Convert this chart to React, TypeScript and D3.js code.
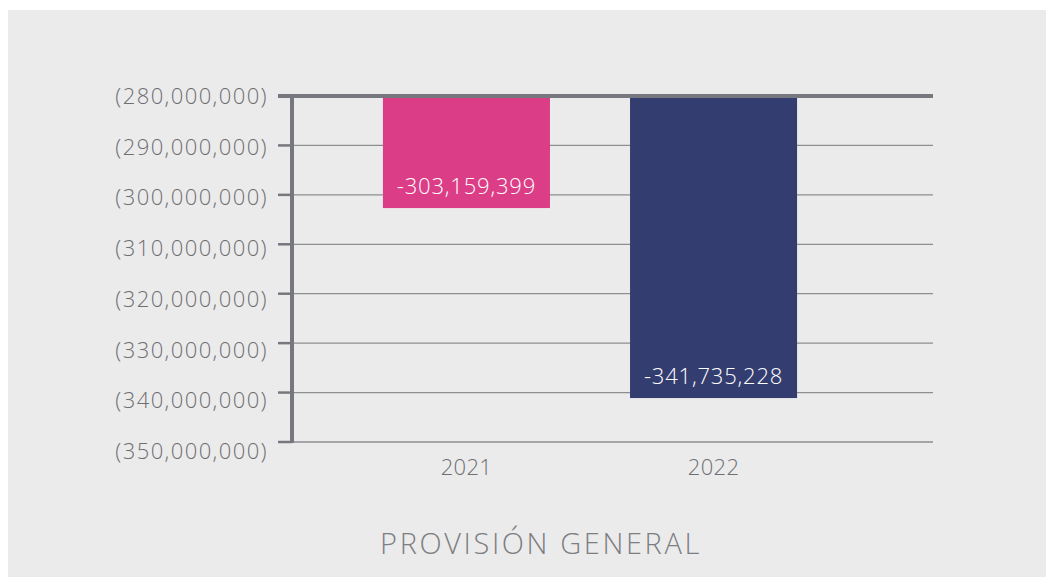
import * as d3 from "d3";
import { useEffect, useRef } from "react";

const years = ["2021", "2022"];
const values = [-303159399, -341735228];
const barColors = ["#db3d87", "#343d70"];
const tickValues = [-280000000, -290000000, -300000000, -310000000, -320000000, -330000000, -340000000, -350000000];
const title = "PROVISIÓN GENERAL";

const W = 1046;
const H = 579;
const FONT = "'Open Sans', 'DejaVu Sans', sans-serif";

export default function App() {
  const ref = useRef<SVGSVGElement>(null);

  useEffect(() => {
    if (!ref.current) return;
    const svg = d3.select(ref.current);
    svg.selectAll("*").remove();

    svg.append("rect").attr("width", W).attr("height", H).attr("fill", "#ffffff");
    svg.append("rect").attr("x", 8).attr("y", 10).attr("width", W - 8).attr("height", H - 12).attr("fill", "#ebebeb");

    const axisX = 292;
    const gridEnd = 933;
    const top = -280000000;
    // gridlines / ticks
    const y = d3.scaleLinear().domain([top, -350000000]).range([96, 442]);
    // tick labels drift slightly lower than their ticks in the original
    const yLabel = d3.scaleLinear().domain([top, -350000000]).range([96, 451]);
    // bars are drawn on a slightly tighter scale in the original
    const yBar = d3.scaleLinear().domain([top, -350000000]).range([94, 438.75]);
    const x = d3.scaleBand<string>().domain(years).range([axisX, 888]).paddingInner(0.324).paddingOuter(0.368);

    const fmtTick = (v: number) => `(${d3.format(",")(Math.abs(v))})`;

    // gridlines
    tickValues.slice(1).forEach((t) => {
      svg.append("line")
        .attr("x1", axisX).attr("x2", gridEnd)
        .attr("y1", y(t)).attr("y2", y(t))
        .attr("stroke", "#8d8e91").attr("stroke-width", 1.3);
    });

    // bars
    years.forEach((yr, i) => {
      const v = values[i];
      svg.append("rect")
        .attr("x", x(yr) ?? 0)
        .attr("y", y(top))
        .attr("width", x.bandwidth())
        .attr("height", yBar(v) - y(top))
        .attr("fill", barColors[i]);
      svg.append("text")
        .attr("x", (x(yr) ?? 0) + x.bandwidth() / 2)
        .attr("y", yBar(v) - 14)
        .attr("text-anchor", "middle")
        .attr("font-family", FONT)
        .attr("font-weight", 300)
        .attr("font-size", 22)
        .attr("letter-spacing", 0.8)
        .attr("fill", "#ffffff")
        .text(d3.format(",")(v).replace("−", "-"));
      svg.append("text")
        .attr("x", (x(yr) ?? 0) + x.bandwidth() / 2)
        .attr("y", 475)
        .attr("text-anchor", "middle")
        .attr("font-family", FONT)
        .attr("font-weight", 300)
        .attr("font-size", 22)
        .attr("letter-spacing", 0.3)
        .attr("fill", "#6e6f73")
        .text(yr);
    });

    // top thick line
    svg.append("line")
      .attr("x1", 278).attr("x2", gridEnd)
      .attr("y1", y(top)).attr("y2", y(top))
      .attr("stroke", "#76787d").attr("stroke-width", 4);

    // y axis line and ticks
    svg.append("line")
      .attr("x1", axisX).attr("x2", axisX)
      .attr("y1", y(top) - 2).attr("y2", y(-350000000) + 1)
      .attr("stroke", "#76787d").attr("stroke-width", 4);
    tickValues.forEach((t) => {
      svg.append("line")
        .attr("x1", 278).attr("x2", axisX)
        .attr("y1", y(t)).attr("y2", y(t))
        .attr("stroke", "#76787d").attr("stroke-width", t === top ? 4 : 2.5);
      svg.append("text")
        .attr("x", 268)
        .attr("y", yLabel(t) + 8)
        .attr("text-anchor", "end")
        .attr("font-family", FONT)
        .attr("font-weight", 300)
        .attr("font-size", 22)
        .attr("letter-spacing", 1.4)
        .attr("fill", "#6e6f73")
        .text(fmtTick(t));
    });

    svg.append("text")
      .attr("x", 541)
      .attr("y", 554)
      .attr("text-anchor", "middle")
      .attr("font-family", FONT)
      .attr("font-weight", 300)
      .attr("font-size", 29)
      .attr("letter-spacing", 2.6)
      .attr("fill", "#7d7e82")
      .text(title);
  }, []);

  return (
    <svg
      ref={ref}
      width={W}
      height={H}
      viewBox={`0 0 ${W} ${H}`}
      style={{ position: "absolute", left: 0, top: 0, display: "block" }}
    />
  );
}
